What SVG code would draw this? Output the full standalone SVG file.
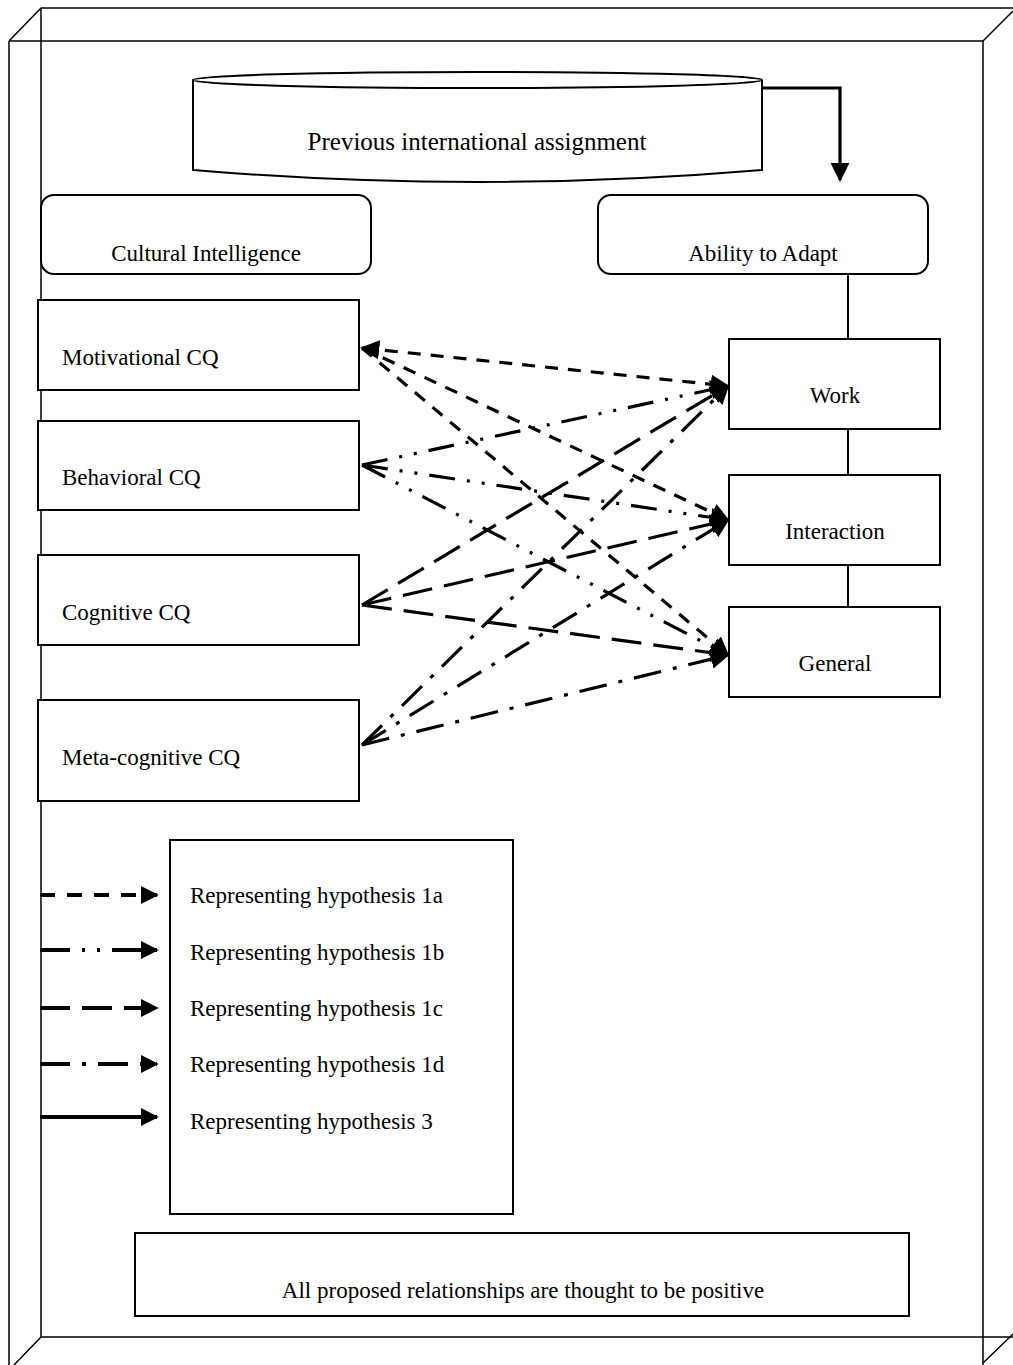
<svg xmlns="http://www.w3.org/2000/svg" width="1013" height="1365" viewBox="0 0 1013 1365">
  <defs>
    <style>
      text { font-family: "Liberation Serif", "Times New Roman", serif; font-size: 23px; fill: #000; }
      .title { font-size: 25px; }
      .box { fill: #fff; stroke: #000; stroke-width: 2; }
      .frame { fill: none; stroke: #000; stroke-width: 1.5; }
      .link { fill: none; stroke: #000; stroke-width: 3.2; }
      .h1a { stroke-dasharray: 13 10; }
      .h1b { stroke-dasharray: 26 12 3 12 3 12; }
      .h1c { stroke-dasharray: 30 12; }
      .h1d { stroke-dasharray: 28 12 4 12; }
      .lg { fill: none; stroke: #000; stroke-width: 4; }
    </style>
    <marker id="head" viewBox="0 0 10 10" refX="9" refY="5" markerWidth="6" markerHeight="6" markerUnits="strokeWidth" orient="auto-start-reverse">
      <path d="M0,0 L10,5 L0,10 z" fill="#000"/>
    </marker>
    <marker id="headL" viewBox="0 0 10 10" refX="9" refY="5" markerWidth="4.5" markerHeight="4.5" markerUnits="strokeWidth" orient="auto">
      <path d="M0,0 L10,5 L0,10 z" fill="#000"/>
    </marker>
  </defs>

  <!-- 3D frame -->
  <g id="frame">
    <path class="frame" d="M41,8 H1013 M41,8 V1337 H1013"/>
    <path class="frame" d="M9,41 H983 M9,41 V1365 M983,41 V1365"/>
    <path class="frame" d="M9,41 L41,8 M983,41 L1013,11 M41,1337 L14,1365 M983,1363 L1013,1334"/>
  </g>

  <!-- Previous international assignment (cylinder) -->
  <g id="previous-assignment">
    <path class="box" d="M193,80 V170 Q477,194 762,170 V80"/>
    <ellipse class="box" cx="477.5" cy="80" rx="284.5" ry="8"/>
    <text class="title" x="477" y="150" text-anchor="middle">Previous international assignment</text>
  </g>

  <g id="cultural-intelligence">
    <rect class="box" x="41" y="195" width="330" height="79" rx="13"/>
    <text x="206" y="261" text-anchor="middle">Cultural Intelligence</text>
  </g>
  <g id="ability-to-adapt">
    <rect class="box" x="598" y="195" width="330" height="79" rx="13"/>
    <text x="763" y="261" text-anchor="middle">Ability to Adapt</text>
  </g>

  <g id="motivational">
    <rect class="box" x="38" y="300" width="321" height="90"/>
    <text x="62" y="365">Motivational CQ</text>
  </g>
  <g id="behavioral">
    <rect class="box" x="38" y="421" width="321" height="89"/>
    <text x="62" y="485">Behavioral CQ</text>
  </g>
  <g id="cognitive">
    <rect class="box" x="38" y="555" width="321" height="90"/>
    <text x="62" y="620">Cognitive CQ</text>
  </g>
  <g id="metacognitive">
    <rect class="box" x="38" y="700" width="321" height="101"/>
    <text x="62" y="765">Meta-cognitive CQ</text>
  </g>

  <g id="work">
    <rect class="box" x="729" y="339" width="211" height="90"/>
    <text x="835" y="403" text-anchor="middle">Work</text>
  </g>
  <g id="interaction">
    <rect class="box" x="729" y="475" width="211" height="90"/>
    <text x="835" y="539" text-anchor="middle">Interaction</text>
  </g>
  <g id="general">
    <rect class="box" x="729" y="607" width="211" height="90"/>
    <text x="835" y="671" text-anchor="middle">General</text>
  </g>

  <g id="legend">
    <rect class="box" x="170" y="840" width="343" height="374"/>
    <path class="lg" d="M40,895 H157" stroke-dasharray="15 12" marker-end="url(#headL)"/>
    <path class="lg" d="M40,950 H157" stroke-dasharray="30 12 3 12 3 12" marker-end="url(#headL)"/>
    <path class="lg" d="M40,1008 H157" stroke-dasharray="30 12" marker-end="url(#headL)"/>
    <path class="lg" d="M40,1064 H157" stroke-dasharray="30 12 4 12" marker-end="url(#headL)"/>
    <path class="lg" d="M40,1117 H157" marker-end="url(#headL)"/>
    <text x="190" y="903">Representing hypothesis 1a</text>
    <text x="190" y="960">Representing hypothesis 1b</text>
    <text x="190" y="1016">Representing hypothesis 1c</text>
    <text x="190" y="1072">Representing hypothesis 1d</text>
    <text x="190" y="1129">Representing hypothesis 3</text>
  </g>

  <g id="note">
    <rect class="box" x="135" y="1233" width="774" height="83"/>
    <text x="523" y="1298" text-anchor="middle">All proposed relationships are thought to be positive</text>
  </g>

  <!-- connectors -->
  <g id="connectors">
    <path class="box" d="M848,274 V339 M848,429 V475 M848,565 V607" fill="none"/>
    <path class="link" d="M762,88 H840 V180" marker-end="url(#head)" stroke-width="2.5"/>

    <!-- H1a: motivational CQ -->
    <path class="link h1a" d="M362,348 L728,386" marker-start="url(#head)" marker-end="url(#head)"/>
    <path class="link h1a" d="M362,348 L728,520" marker-end="url(#head)"/>
    <path class="link h1a" d="M362,348 L728,655" marker-end="url(#head)"/>

    <!-- H1b: behavioral CQ -->
    <path class="link h1b" d="M362,465 L728,386" marker-end="url(#head)"/>
    <path class="link h1b" d="M362,465 L728,520" marker-end="url(#head)"/>
    <path class="link h1b" d="M362,465 L728,655" marker-end="url(#head)"/>

    <!-- H1c: cognitive CQ -->
    <path class="link h1c" d="M362,605 L728,386" marker-end="url(#head)"/>
    <path class="link h1c" d="M362,605 L728,520" marker-end="url(#head)"/>
    <path class="link h1c" d="M362,605 L728,655" marker-end="url(#head)"/>

    <!-- H1d: meta-cognitive CQ -->
    <path class="link h1d" d="M362,745 L728,386" marker-end="url(#head)"/>
    <path class="link h1d" d="M362,745 L728,520" marker-end="url(#head)"/>
    <path class="link h1d" d="M362,745 L728,655" marker-end="url(#head)"/>
  </g>
</svg>
